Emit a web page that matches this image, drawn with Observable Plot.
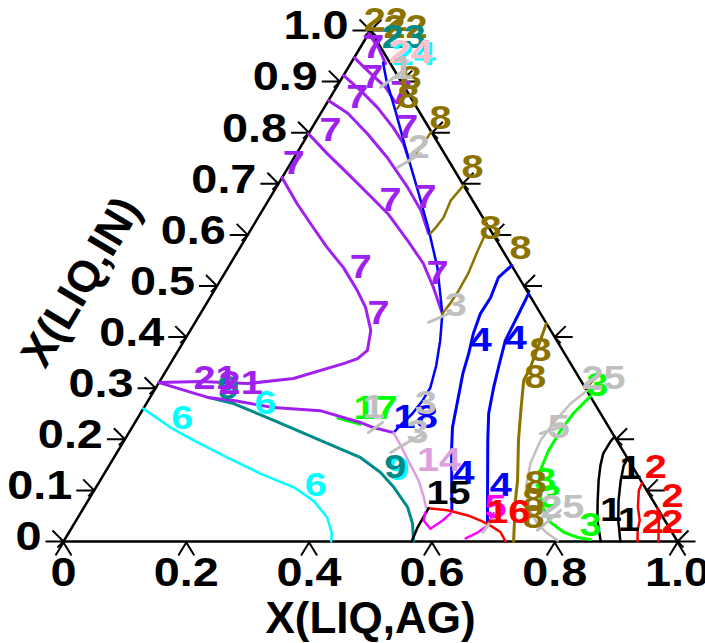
<!DOCTYPE html>
<html><head><meta charset="utf-8">
<script src="https://cdn.jsdelivr.net/npm/d3@7"></script>
<script src="https://cdn.jsdelivr.net/npm/@observablehq/plot@0.6"></script>
<style>html,body{margin:0;padding:0;background:#fff;} svg{display:block}</style>
</head><body><div id="chart"></div>
<script>
// ---- axis ticks ----
const inTicks = [0,0.1,0.2,0.3,0.4,0.5,0.6,0.7,0.8,0.9,1.0];
const inTickLabels = ["0","0.1","0.2","0.3","0.4","0.5","0.6","0.7","0.8","0.9","1.0"];
const agTicks = [0,0.2,0.4,0.6,0.8,1.0];
const agTickLabels = ["0","0.2","0.4","0.6","0.8","1.0"];
const frame = [[0,0],[1,0],[0,1],[0,0]];

// ---- curves: points are [X(LIQ,AG), X(LIQ,IN)] ----
const blueMain = [[0.052,0.937],[0.075,0.902],[0.119,0.843],[0.183,0.755],[0.238,0.681],[0.287,0.614],[0.341,0.536],[0.394,0.446],[0.417,0.393],[0.435,0.344],[0.447,0.301],[0.447,0.276],[0.443,0.250],[0.435,0.227],[0.431,0.213]];
const blue4a = [[0.460,0.540],[0.450,0.517],[0.457,0.477],[0.456,0.446],[0.464,0.407],[0.476,0.368],[0.486,0.329],[0.504,0.276],[0.522,0.223],[0.543,0.178],[0.602,0.061]];
const blue4b = [[0.515,0.485],[0.518,0.452],[0.520,0.427],[0.523,0.393],[0.538,0.341],[0.550,0.301],[0.567,0.251],[0.592,0.198],[0.672,0.037]];
const olive0 = [[0.120,0.847],[0.121,0.873],[0.110,0.890]];
const olive1 = [[0.198,0.802],[0.197,0.779],[0.194,0.759],[0.191,0.742]];
const olive2 = [[0.303,0.697],[0.297,0.667],[0.302,0.634],[0.299,0.614],[0.296,0.603]];
const olive3 = [[0.387,0.595],[0.390,0.570],[0.397,0.524],[0.398,0.491],[0.397,0.466],[0.394,0.446]];
const olive4 = [[0.573,0.427],[0.580,0.393],[0.590,0.341],[0.592,0.315],[0.619,0.251],[0.642,0.198],[0.680,0.119],[0.696,0.080],[0.733,0]];
const grey25 = [[0.705,0.295],[0.691,0.270],[0.683,0.237],[0.678,0.198],[0.684,0.153],[0.700,0.106],[0.724,0.067],[0.754,0.035],[0.780,0.016],[0.804,0.002]];
const green3 = [[0.716,0.284],[0.705,0.251],[0.701,0.217],[0.701,0.178],[0.707,0.139],[0.721,0.106],[0.747,0.067],[0.775,0.037],[0.806,0.018],[0.833,0.008],[0.856,0.004]];
const black1a = [[0.795,0.205],[0.793,0.196],[0.793,0.172],[0.800,0.149],[0.812,0.119],[0.830,0.080],[0.849,0.041],[0.875,0]];
const black1b = [[0.838,0.162],[0.838,0.149],[0.848,0.119],[0.864,0.080],[0.883,0.041],[0.907,0]];
const red2a = [[0.885,0.115],[0.887,0.100],[0.902,0.067],[0.918,0.041],[0.924,0.022],[0.935,0]];
const red2b = [[0.935,0.065],[0.949,0.041],[0.969,0]];
const red16 = [[0.562,0.065],[0.595,0.061],[0.633,0.051],[0.659,0.041],[0.680,0.031],[0.703,0.018],[0.720,0]];
const black15 = [[0.562,0.065],[0.563,0.027],[0.567,0]];
const magenta5a = [[0.561,0.057],[0.566,0.041],[0.585,0.025],[0.597,0.041],[0.603,0.055]];
const magenta5b = [[0.652,0.006],[0.666,0.018],[0.675,0.031],[0.673,0.055]];
const plum14 = [[0.431,0.213],[0.455,0.188],[0.491,0.149],[0.519,0.119],[0.541,0.090],[0.557,0.067],[0.562,0.065]];
const teal9 = [[0.094,0.282],[0.142,0.270],[0.224,0.237],[0.305,0.204],[0.402,0.164],[0.449,0.135],[0.485,0.106],[0.527,0.067],[0.551,0.035],[0.570,0]];
const cyan6 = [[0,0.260],[0.063,0.223],[0.113,0.198],[0.185,0.164],[0.254,0.133],[0.322,0.106],[0.367,0.080],[0.406,0.047],[0.429,0.016],[0.436,0]];
const purpleC = [[0,0.712],[0.050,0.661],[0.100,0.614],[0.142,0.575],[0.188,0.536],[0.233,0.491],[0.263,0.458],[0.294,0.413],[0.308,0.374],[0.300,0.358],[0.282,0.348],[0.215,0.319],[0.145,0.309],[0.067,0.313],[0,0.311]];
const purple21 = [[0,0.311],[0.094,0.282],[0.139,0.276],[0.211,0.262],[0.290,0.256],[0.367,0.233],[0.393,0.223],[0.431,0.213]];
const green17 = [[0.326,0.241],[0.369,0.229]];
const purple7a = [[0,0.798],[0.050,0.759],[0.103,0.720],[0.155,0.681],[0.207,0.642],[0.266,0.589],[0.314,0.544],[0.354,0.497],[0.394,0.446]];
const purple7b = [[0,0.863],[0.044,0.838],[0.096,0.798],[0.152,0.751],[0.214,0.693],[0.258,0.648],[0.293,0.603]];
const purple7c = [[0,0.912],[0.042,0.883],[0.087,0.849],[0.132,0.810],[0.164,0.779],[0.187,0.750]];
const purple7d = [[0,0.947],[0.042,0.916],[0.080,0.889],[0.110,0.860]];
const purple7e = [[0,0.994],[0.031,0.965],[0.057,0.935]];
const greyTicks = [
  [[0.072,0.889],[0.093,0.922]],
  [[0.178,0.732],[0.202,0.759]],
  [[0.380,0.429],[0.404,0.446]],
  [[0.390,0.213],[0.403,0.233]],
  [[0.446,0.174],[0.479,0.211]],
  [[0.671,0.211],[0.704,0.227]],
  [[0.761,0.022],[0.779,0.061]],
  [[0.674,0.018],[0.679,0.065]]
];

// ---- curve labels: [text, AG, IN] ----
const labels7 = [["7",0.021,0.967],["7",0.049,0.908],["7",0.044,0.869],["7",0.111,0.877],["7",0.155,0.810],["7",0.033,0.804],["7",0.005,0.740],["7",0.199,0.667],["7",0.253,0.673],["7",0.216,0.536],["7",0.347,0.524],["7",0.290,0.446],["21",0.088,0.319],["21",0.134,0.309]];
const labels6 = [["6",0.073,0.241],["6",0.194,0.270],["6",0.356,0.110]];
const labels9 = [["9",0.119,0.299],["9",0.468,0.145]];
const labelsBlue = [["4",0.483,0.393],["4",0.538,0.397],["4",0.585,0.133],["4",0.657,0.110],["18",0.452,0.243]];
const labels8 = [["8",0.200,0.828],["8",0.300,0.732],["8",0.389,0.613],["8",0.458,0.573],["8",0.112,0.906],["8",0.127,0.869],["8",0.590,0.374],["8",0.608,0.321],["8",0.712,0.114],["8",0.725,0.080],["8",0.742,0.047],["22",0.015,1.020],["22",0.054,1.006]];
const labelsGrey = [["1",0.089,0.926],["2",0.193,0.771],["3",0.408,0.462],["25",0.720,0.319],["5",0.695,0.223],["25",0.779,0.067],["3",0.455,0.270],["3",0.470,0.213],["1",0.374,0.262]];
const labelsGreen = [["3",0.717,0.305],["3",0.725,0.119],["3",0.750,0.086],["3",0.843,0.031],["17",0.378,0.260]];
const labelsBlack = [["1",0.861,0.061],["1",0.900,0.041],["1",0.852,0.143],["15",0.580,0.094]];
const labelsRed = [["2",0.892,0.145],["2",0.948,0.088],["2",0.941,0.037],["2",0.973,0.037],["16",0.696,0.057]];
const labelsPlum = [["14",0.532,0.159]];
const labelsMagenta = [["5",0.670,0.067]];
const labelsTeal = [["23",0.061,0.986]];
const labelsPink = [["24",0.087,0.957]];

// ---- colours ----
const PURPLE="#a020f0", BLUE="#0000ff", OLIVE="#8c7300", GREY="#c0c0c0", GREEN="#00ff00",
      CYAN="#00ffff", TEAL="#008b8b", PLUM="#dda0dd", MAGENTA="#ff00ff", RED="#ff0000",
      BLACK="#000000", PINK="#ffc0cb";

const tx = d => d[0] + d[1] / 2, ty = d => d[1];
const lx = d => d[1] + d[2] / 2, ly = d => d[2];

const line = (pts, stroke, w = 2.5) => Plot.line(pts, {x: tx, y: ty, stroke, strokeWidth: w, strokeLinejoin: "round", strokeLinecap: "round"});
const txt = (items, fill, extra = {}) => Plot.text(items, {x: lx, y: ly, text: d => d[0], fill, fontSize: 33, fontWeight: "bold", ...extra});

// tick symbols (pixel-size glyphs drawn by Plot.dot)
const arrowRight = {draw(c){ c.moveTo(-18,0); c.lineTo(0,0); c.moveTo(-11,-11); c.lineTo(0,0); c.lineTo(-6,6); }};
const arrowLeft  = {draw(c){ c.moveTo(18,0); c.lineTo(0,0); c.moveTo(11,-11); c.lineTo(0,0); c.lineTo(6,6); }};
const caret      = {draw(c){ c.moveTo(-8,14); c.lineTo(0,1); c.lineTo(8,14); }};

const chart = Plot.plot({
  width: 705, height: 643,
  marginLeft: 63, marginRight: 28, marginTop: 30, marginBottom: 102,
  x: {domain: [0,1], axis: null},
  y: {domain: [0,1], axis: null},
  style: {fontFamily: "'Liberation Sans', Arial, sans-serif", background: "white", overflow: "visible"},
  marks: [
    // frame
    Plot.line(frame, {x: tx, y: ty, stroke: BLACK, strokeWidth: 2.5}),
    // ticks
    Plot.dot(inTicks, {x: d => d/2, y: d => d, symbol: arrowRight, fill: "none", stroke: BLACK, strokeWidth: 2}),
    Plot.dot(inTicks, {x: d => 1 - d/2, y: d => d, symbol: arrowLeft, fill: "none", stroke: BLACK, strokeWidth: 2}),
    Plot.dot(agTicks, {x: d => d, y: 0, symbol: caret, fill: "none", stroke: BLACK, strokeWidth: 2}),
    // tick labels
    Plot.text(inTicks, {x: d => d/2, y: d => d, text: (d,i) => inTickLabels[i], textAnchor: "end", lineAnchor: "middle", dx: -22, dy: -4, fontSize: 40, fontWeight: "bold", fill: BLACK}),
    Plot.text(agTicks, {x: d => d, y: 0, text: (d,i) => agTickLabels[i], textAnchor: "middle", lineAnchor: "top", dy: 16, fontSize: 40, fontWeight: "bold", fill: BLACK}),
    // axis titles
    Plot.text(["X(LIQ,AG)"], {frameAnchor: "bottom", textAnchor: "middle", lineAnchor: "middle", dy: 77, fontSize: 44, fontWeight: "bold", fill: BLACK}),
    Plot.text(["X(LIQ,IN)"], {frameAnchor: "left", textAnchor: "middle", lineAnchor: "middle", dx: 18, dy: -4, rotate: -59, fontSize: 44, fontWeight: "bold", fill: BLACK}),
    // curves
    line(cyan6, CYAN),
    line(teal9, TEAL, 3),
    line(green17, GREEN),
    line(purple21, PURPLE, 3),
    line(purpleC, PURPLE, 3),
    line(purple7a, PURPLE, 3),
    line(purple7b, PURPLE, 3),
    line(purple7c, PURPLE, 3),
    line(purple7d, PURPLE, 3),
    line(purple7e, PURPLE, 3),
    line(blueMain, BLUE),
    line(blue4a, BLUE, 3),
    line(blue4b, BLUE, 3),
    line(olive0, OLIVE),
    line(olive1, OLIVE),
    line(olive2, OLIVE),
    line(olive3, OLIVE),
    line(olive4, OLIVE, 3),
    line(plum14, PLUM),
    line(grey25, GREY),
    line(green3, GREEN, 3),
    line(black1a, BLACK),
    line(black1b, BLACK),
    line(red2a, RED),
    line(red2b, RED),
    line(red16, RED),
    line(black15, BLACK),
    line(magenta5a, MAGENTA),
    line(magenta5b, MAGENTA),
    ...greyTicks.map(s => line(s, GREY, 3)),
    // labels
    txt(labels6, CYAN),
    txt(labelsGreen, GREEN),
    txt([labels9[0]], TEAL),
    txt([labels9[1]], CYAN, {dx: 3, dy: 2}),
    txt([labels9[1]], TEAL),
    txt(labels7, PURPLE),
    txt(labelsBlue, BLUE),
    txt(labels8, OLIVE),
    txt(labelsTeal, TEAL),
    txt(labelsPink, CYAN, {dx: 3, dy: 2}),
    txt(labelsPink, PINK),
    txt(labelsPlum, PLUM),
    txt(labelsMagenta, MAGENTA),
    txt(labelsBlack, BLACK),
    txt(labelsRed, RED),
    txt(labelsGrey, GREY)
  ]
});
// widen the glyphs horizontally, as in the reference typeface
function widen(selector, k) {
  d3.select(chart).selectAll(selector).each(function() {
    const t = this.getAttribute("transform");
    if (t) this.setAttribute("transform", t + ` scale(${k},1)`);
    else {
      const x = +this.getAttribute("x") || 0, y = +this.getAttribute("y") || 0;
      this.removeAttribute("x"); this.removeAttribute("y");
      this.setAttribute("transform", `translate(${x},${y}) scale(${k},1)`);
    }
  });
}
widen('g[font-size="40"] text', 1.17);
widen('g[font-size="33"] text', 1.2);
document.getElementById("chart").appendChild(chart);
</script></body></html>
